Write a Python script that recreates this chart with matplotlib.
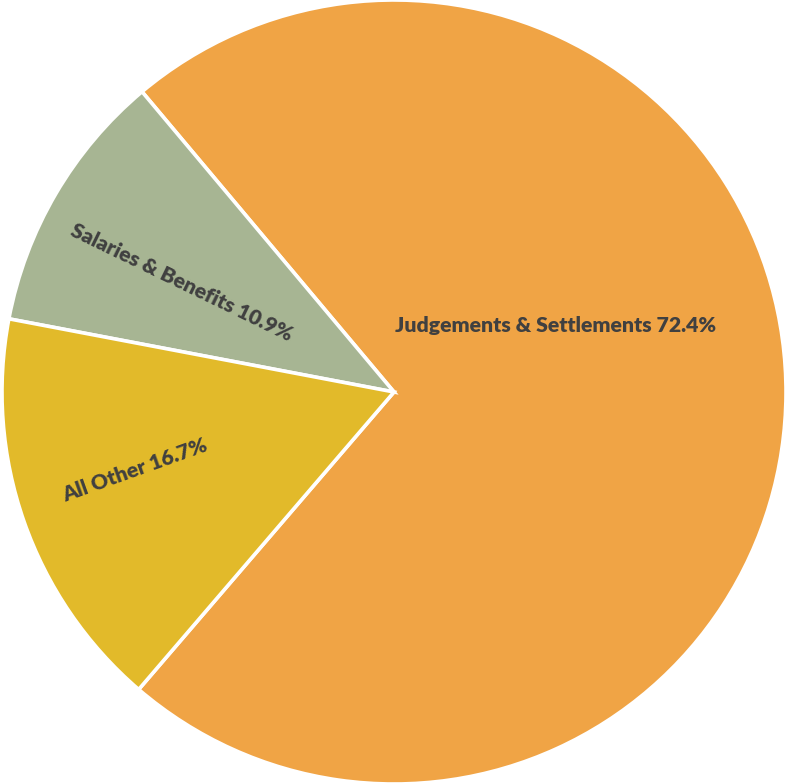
import matplotlib.pyplot as plt

# spending breakdown
categories = ["Judgements & Settlements", "Salaries & Benefits", "All Other"]
shares = [72.4, 10.9, 16.7]
colors = ["#F0A445", "#A7B593", "#E2BA2A"]

# label placement (data coords) and rotation
label_xy = [(0.413, 0.169), (-0.542, 0.279), (-0.661, -0.199)]
label_rot = [0, -25.9, 19.7]

fig = plt.figure(figsize=(7.88, 7.84), dpi=100)
ax = fig.add_axes([0, 0, 1, 1])

ax.pie(
    shares,
    colors=colors,
    startangle=130 - shares[0] * 3.6,
    counterclock=True,
    radius=1.0,
    wedgeprops=dict(edgecolor="white", linewidth=2.6),
)

for cat, val, (x, y), rot in zip(categories, shares, label_xy, label_rot):
    ax.text(
        x, y, "{} {:.1f}%".format(cat, val),
        ha="center", va="center", rotation=rot, rotation_mode="anchor",
        fontsize=15.3, fontweight="heavy", color="#404040", family="Lato",
    )

# pie center sits at (394, 392) px with radius ~392 px
r = 392.0
ax.set_xlim(-394 / r, (788 - 394) / r)
ax.set_ylim(-392 / r, 392 / r)
ax.set_aspect("auto")
ax.axis("off")

fig.savefig("out.png", dpi=100)
